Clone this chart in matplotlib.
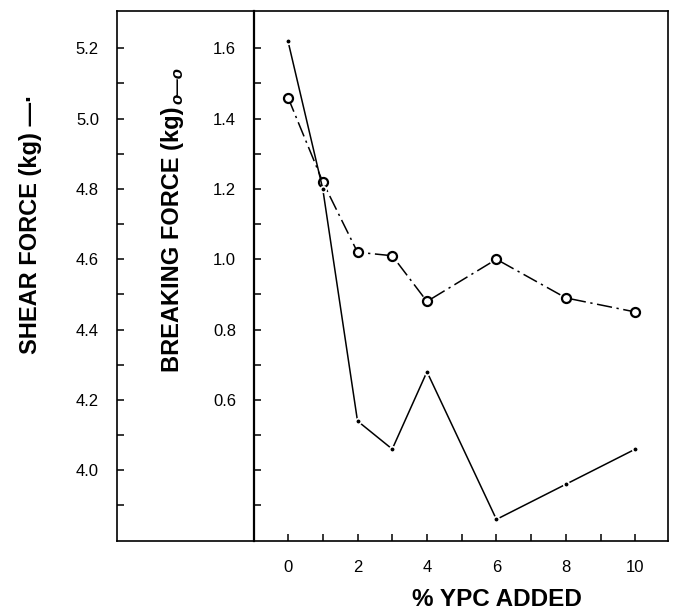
import numpy as np
import matplotlib
matplotlib.use('Agg')
import matplotlib.pyplot as plt
from matplotlib.ticker import FixedLocator, FormatStrFormatter

plt.rcParams['font.family'] = ['Liberation Sans', 'DejaVu Sans']

# data
ypc = [0, 1, 2, 3, 4, 6, 8, 10]
breaking = [1.46, 1.22, 1.02, 1.01, 0.88, 1.00, 0.89, 0.85]
shear = [5.22, 4.80, 4.14, 4.06, 4.28, 3.86, 3.96, 4.06]

x_labels = [0, 2, 4, 6, 8, 10]
brk_labels = [0.6, 0.8, 1.0, 1.2, 1.4, 1.6]
shr_labels = [4.0, 4.2, 4.4, 4.6, 4.8, 5.0, 5.2]

W, H = 675, 610
fig = plt.figure(figsize=(W / 100, H / 100), dpi=100)

def fx(px):
    return px / W

def fy(py):
    return 1 - py / H

top, bot = 10.7, 540.5
brk_lim = (0.2, 1.707)
shr_lim = (3.8, 5.307)

# shear scale box on the left (added first so it sits under the main axes)
axb = fig.add_axes([fx(117), fy(bot), fx(254) - fx(117), fy(top) - fy(bot)])
axb.patch.set_visible(False)
axb.set_ylim(*shr_lim)
axb.set_xticks([])
axb.yaxis.set_major_locator(FixedLocator(shr_labels))
axb.yaxis.set_minor_locator(FixedLocator([3.9, 4.1, 4.3, 4.5, 4.7, 4.9, 5.1]))
axb.yaxis.set_major_formatter(FormatStrFormatter('%.1f'))
axb.tick_params(axis='y', which='both', direction='in', length=5, width=1.1,
                labelsize=12, pad=13)
axb.spines['right'].set_visible(False)
for s in axb.spines.values():
    s.set_linewidth(1.2)

# main plot
ax = fig.add_axes([fx(254), fy(bot), fx(668) - fx(254), fy(top) - fy(bot)])
ax.set_xlim(-0.98, 10.94)
ax.set_ylim(*brk_lim)
ax.xaxis.set_major_locator(FixedLocator(x_labels))
ax.xaxis.set_minor_locator(FixedLocator([1, 3, 5, 7, 9]))
ax.yaxis.set_major_locator(FixedLocator(brk_labels))
ax.yaxis.set_minor_locator(FixedLocator([0.3, 0.4, 0.5, 0.7, 0.9, 1.1, 1.3, 1.5]))
ax.yaxis.set_major_formatter(FormatStrFormatter('%.1f'))
ax.tick_params(axis='both', which='both', direction='in', length=5, width=1.1)
ax.tick_params(axis='x', labelsize=12, pad=14)
ax.tick_params(axis='y', labelsize=12, pad=13)
for s in ax.spines.values():
    s.set_linewidth(1.2)
ax.spines['left'].set_linewidth(1.6)

ax.plot(ypc, breaking, color='black', lw=1.1, ls=(0, (10, 3, 1.5, 3)),
        marker='o', ms=6.5, mfc='white', mec='black', mew=1.6, zorder=3)

axs = ax.twinx()
axs.set_ylim(*shr_lim)
axs.axis('off')
axs.plot(ypc, shear, color='black', lw=1.1, marker='o', ms=4,
         mfc='black', mec='white', mew=1.2, zorder=2)

# axis titles
fig.text(fx(31), fy(354), 'SHEAR FORCE (kg) —·', rotation=90,
         ha='center', va='bottom', fontsize=17, fontweight='bold')
fig.text(fx(172), fy(372), 'BREAKING FORCE (kg)', rotation=90,
         ha='center', va='bottom', fontsize=17, fontweight='bold')
fig.text(fx(178), fy(104), 'o—o', rotation=90, ha='center', va='bottom',
         fontsize=12, style='italic', fontweight='bold')
fig.text(fx(497), fy(606), '% YPC ADDED', ha='center', va='baseline',
         fontsize=17.5, fontweight='bold')

fig.savefig('out.png', dpi=100)
